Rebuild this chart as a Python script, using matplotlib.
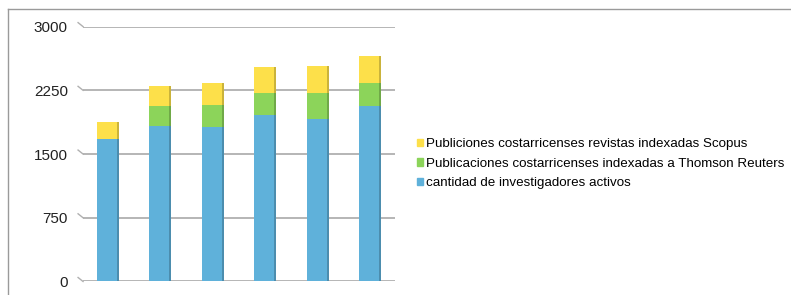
import numpy as np
import matplotlib.pyplot as plt
from matplotlib.lines import Line2D
from matplotlib.patches import Patch

# values (stacked from bottom)
years = ["1", "2", "3", "4", "5", "6"]
investigadores = [1675, 1830, 1815, 1955, 1915, 2065]
thomson = [0, 230, 265, 265, 300, 275]
scopus = [205, 245, 260, 305, 320, 310]
yticks = [0, 750, 1500, 2250, 3000]

series_labels = [
    "Publiciones costarricenses revistas indexadas Scopus",
    "Publicaciones costarricenses indexadas a Thomson Reuters",
    "cantidad de investigadores activos",
]
c_blue = "#5fb1da"
c_green = "#8cd45a"
c_yellow = "#fde04a"

plt.rcParams['font.family'] = ['Liberation Sans', 'DejaVu Sans']

fig = plt.figure(figsize=(7.91, 2.95), dpi=100)
ax = fig.add_axes([0.105, 0.0458, 0.394, 0.864])

x = np.arange(len(years))
w = 0.42
inv = np.array(investigadores)
th = np.array(thomson)
sc = np.array(scopus)

ax.bar(x, inv, w, color=c_blue, zorder=3)
ax.bar(x, th, w, bottom=inv, color=c_green, zorder=3)
ax.bar(x, sc, w, bottom=inv + th, color=c_yellow, zorder=3)
# darker right edge of each column
edge = 0.035
ax.bar(x + w / 2 - edge / 2, inv + th + sc, edge, color="#000000", alpha=0.2, zorder=4)

ax.set_xlim(-0.47, 5.47)
ax.set_ylim(0, 3000)
ax.set_yticks(yticks)
ax.set_yticklabels([str(v) for v in yticks], fontsize=11, color="#222222")
ax.tick_params(axis='y', length=0, pad=11)
ax.set_xticks([])
for s in ax.spines.values():
    s.set_visible(False)

for v in yticks:
    ax.axhline(v, color="#b0b0b0", lw=1.3, zorder=1)
    # little perspective tick at the left
    ax.add_line(Line2D([-0.565, -0.47], [v + 47, v], color="#b0b0b0", lw=1.0,
                       clip_on=False))

# outer frame
fig.add_artist(Line2D([8 / 791, 1], [1 - 9 / 295, 1 - 9 / 295], color="#9a9a9a", lw=1.0))
fig.add_artist(Line2D([8 / 791, 8 / 791], [0, 1 - 9 / 295], color="#9a9a9a", lw=1.0))

handles = [Patch(color=c_yellow), Patch(color=c_green), Patch(color=c_blue)]
fig.legend(handles, series_labels, loc="center left", bbox_to_anchor=(0.5185, 0.445),
           frameon=False, fontsize=9.6, handlelength=0.45, handleheight=0.45,
           handletextpad=0.22, labelspacing=0.57, borderpad=0)

fig.savefig("out.png", dpi=100)
